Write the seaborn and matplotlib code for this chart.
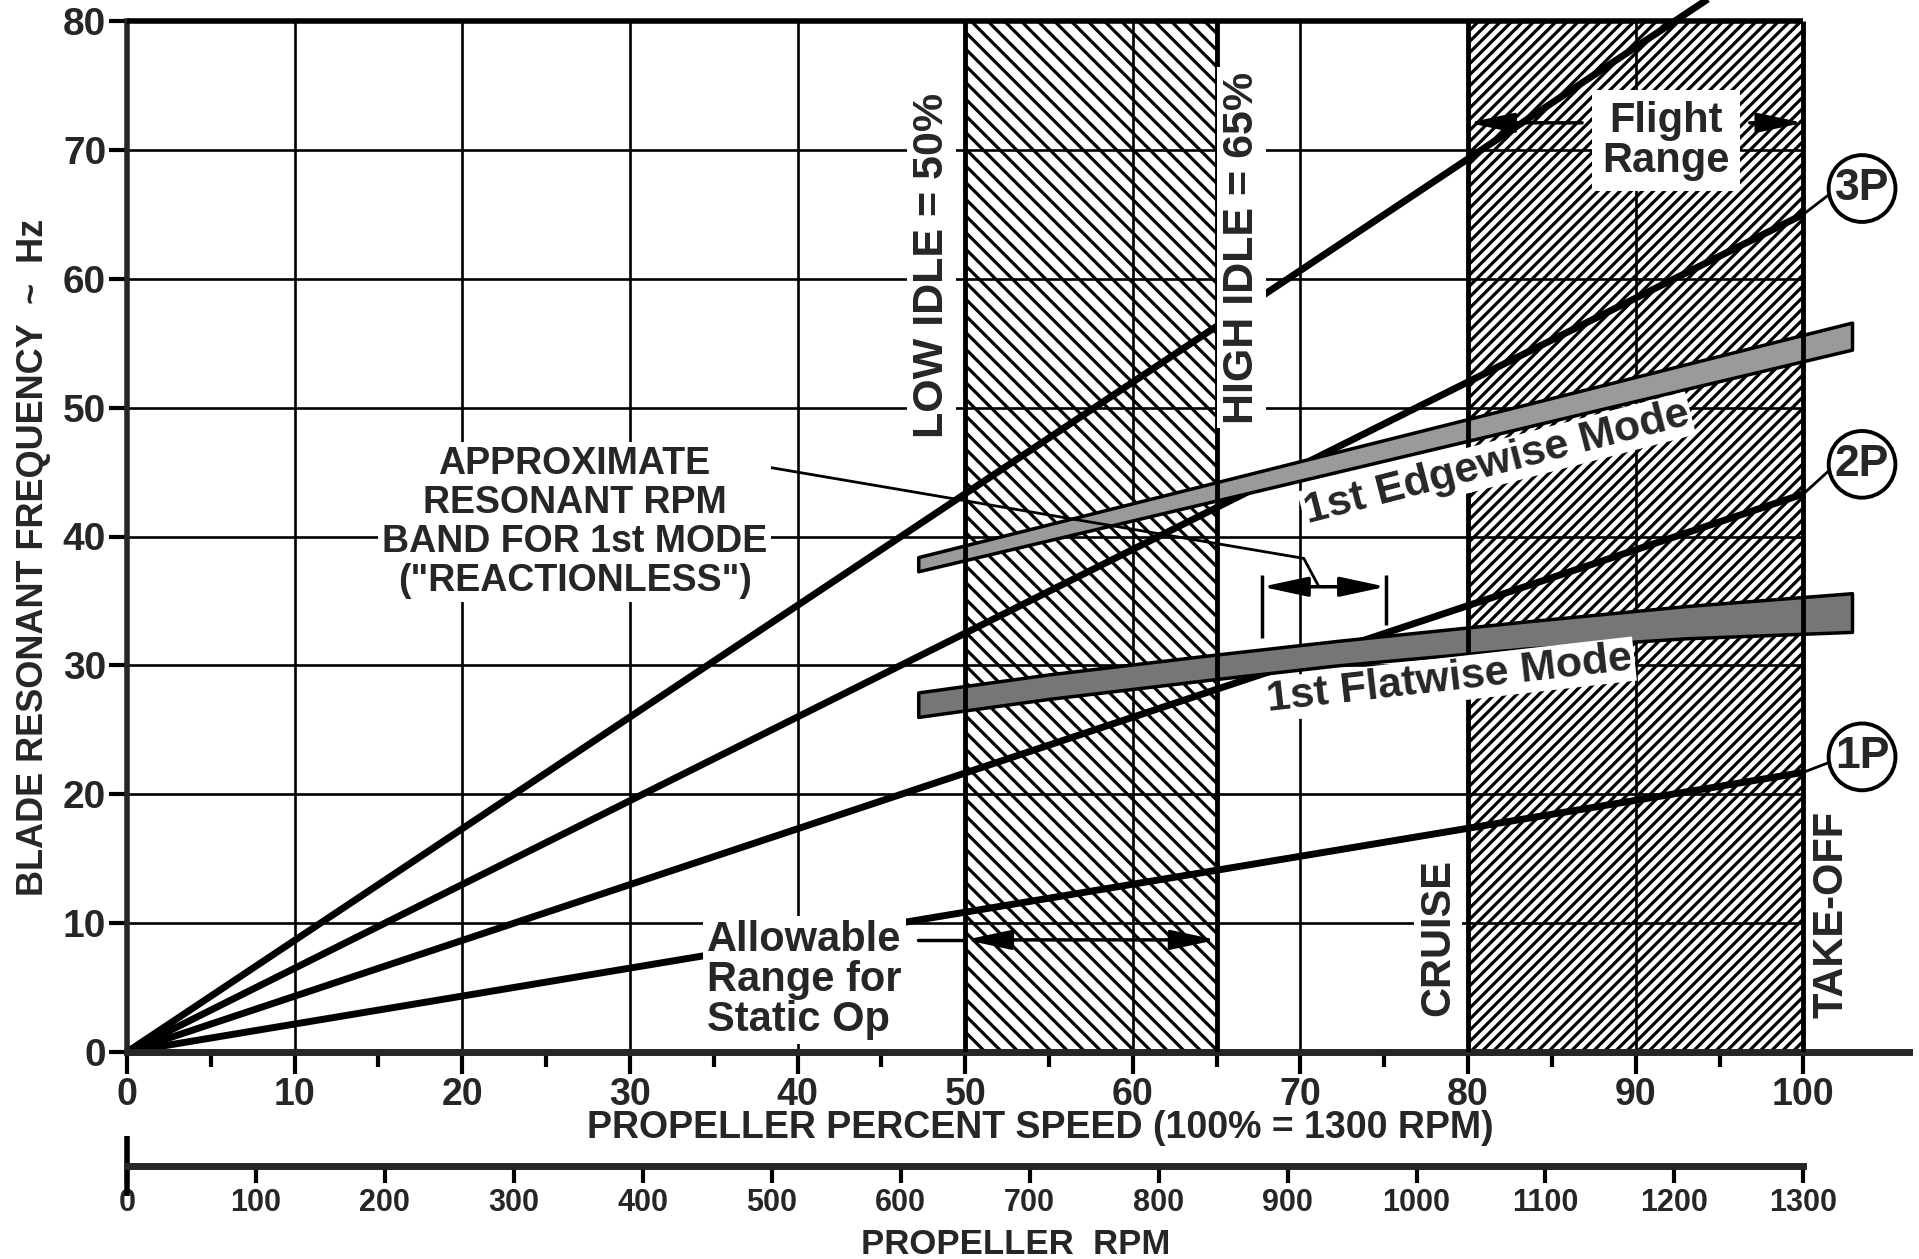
import matplotlib
matplotlib.use("Agg")
import matplotlib.pyplot as plt
import numpy as np
import pandas as pd
import seaborn as sns

# ---------------- data ----------------
speed_ticks = list(range(0, 101, 10))
speed_minor = list(range(5, 100, 10))
freq_ticks = list(range(0, 81, 10))
rpm_ticks = list(range(0, 1301, 100))

order_names = ["1P", "2P", "3P", "4P"]
order_x = [[0, 100], [0, 100], [0, 100], [0, 94.3]]
order_y = [[0, 21.7], [0, 43.3], [0, 65.0], [0, 81.7]]

edgewise_x = [47.2, 102.9]
edgewise_lo = [37.3, 54.5]
edgewise_hi = [38.4, 56.6]

flatwise_x = [47.2, 55.0, 64.7, 72.2, 83.4, 93.0, 102.9]
flatwise_lo = [26.0, 27.4, 28.9, 30.0, 31.3, 32.1, 32.6]
flatwise_hi = [27.9, 29.3, 30.8, 31.9, 33.4, 34.6, 35.6]

low_idle, high_idle, cruise, takeoff = 50, 65, 80, 100

circle_labels = ["1P", "2P", "3P"]
circle_y = [22.9, 45.6, 67.0]
line_end_y = [21.7, 43.3, 65.0]

# ---------------- style ----------------
sns.set_theme(style="white")
plt.rcParams["font.family"] = ["Liberation Sans", "DejaVu Sans"]
plt.rcParams["font.weight"] = "bold"
plt.rcParams["hatch.linewidth"] = 2.3
plt.rcParams["axes.linewidth"] = 4
plt.rcParams["xtick.bottom"] = True
plt.rcParams["ytick.left"] = True

W, H = 1919, 1259
fig = plt.figure(figsize=(W / 100, H / 100), dpi=100)
fig.patch.set_facecolor("white")

x0_px, x1_px = 127, 1909
y0_px, y1_px = 1052, 21
ax = fig.add_axes([x0_px / W, (H - y0_px) / H, (x1_px - x0_px) / W, (y0_px - y1_px) / H])
ax.set_facecolor("white")
ax.set_xlim(0, 106.3)
ax.set_ylim(0, 80)

for s in ["top", "right"]:
    ax.spines[s].set_visible(False)
ax.spines["left"].set_linewidth(4)
ax.spines["bottom"].set_linewidth(5)
ax.spines["left"].set_bounds(0, 80)

# hatched regions
ax.fill_betweenx([0, 80], low_idle, high_idle, facecolor="none", edgecolor="black",
                 hatch="\\\\", linewidth=0, zorder=1)
ax.fill_betweenx([0, 80], cruise, takeoff, facecolor="none", edgecolor="black",
                 hatch="///", linewidth=0, zorder=1)

# grid
ax.hlines(freq_ticks[1:-1], 0, 100, color="black", lw=1.9, zorder=1.5)
ax.vlines([t for t in speed_ticks[1:-1] if t not in (50, 80)], 0, 80, color="black", lw=1.9, zorder=1.5)
ax.hlines(80, 0, 100, color="black", lw=4, zorder=5, clip_on=False)

# order lines
rows = []
for name, xs, ys in zip(order_names, order_x, order_y):
    for xv, yv in zip(xs, ys):
        rows.append({"speed": xv, "freq": yv, "order": name})
df = pd.DataFrame(rows)
sns.lineplot(data=df, x="speed", y="freq", units="order", estimator=None, color="black",
             lw=5, ax=ax, legend=False, zorder=2)
for ln in ax.lines:
    ln.set_clip_on(False)
    ln.set_solid_capstyle("butt")

# mode bands
ax.fill_between(edgewise_x, edgewise_lo, edgewise_hi, facecolor="#9a9a9a", edgecolor="black",
                lw=2.5, zorder=3)
ax.fill_between(flatwise_x, flatwise_lo, flatwise_hi, facecolor="#767676", edgecolor="black",
                lw=2.5, zorder=3)

# boundary lines
ax.vlines([low_idle, high_idle, cruise, takeoff], 0, 80, color="black", lw=3.5, zorder=5)


def txt(x, y, s, size=30, rot=0, ha="center", z=6, pad=0.1, ls=1.0):
    ax.text(x, y, s, fontsize=size, rotation=rot, ha=ha, va="center", fontweight="bold",
            rotation_mode="anchor", linespacing=ls, multialignment="center" if ha == "center" else "left",
            bbox=dict(boxstyle=f"square,pad={pad}", fc="white", ec="none"), zorder=z)


txt(48.0, 61.0, "LOW IDLE = 50%", 31, 90)
txt(66.5, 62.4, "HIGH IDLE = 65%", 31, 90)
txt(78.2, 8.9, "CRUISE", 30, 90)
txt(101.7, 10.7, "TAKE-OFF", 30, 90)
txt(91.8, 70.7, "Flight\nRange", 30, 0, pad=0.25)
txt(26.7, 41.1, "APPROXIMATE\nRESONANT RPM\nBAND FOR 1st MODE\n(\"REACTIONLESS\")", 27, 0, ls=1.1)
txt(34.6, 5.6, "Allowable\nRange for\nStatic Op", 30, 0, ha="left", ls=1.0)
txt(81.7, 45.7, "1st Edgewise Mode", 31, 14.5, pad=0.05)
txt(78.9, 28.9, "1st Flatwise Mode", 31, 6.5, pad=0.05)

arrow = dict(arrowstyle="-|>,head_length=1.4,head_width=0.3", color="black", lw=2.5,
             mutation_scale=20, shrinkA=0, shrinkB=0)
# flight range arrows
ax.annotate("", xy=(cruise, 72.1), xytext=(86.8, 72.1), arrowprops=arrow, zorder=6)
ax.annotate("", xy=(takeoff, 72.1), xytext=(96.8, 72.1), arrowprops=arrow, zorder=6)
# allowable static range arrows
ax.plot([47.2, 50], [8.7, 8.7], color="black", lw=2.5, zorder=6)
ax.annotate("", xy=(low_idle, 8.7), xytext=(57.5, 8.7), arrowprops=arrow, zorder=6)
ax.annotate("", xy=(high_idle, 8.7), xytext=(57.5, 8.7), arrowprops=arrow, zorder=6)
# resonant band bracket
ax.plot([35.0, 70.2, 71.1], [46.1, 38.3, 36.1], color="black", lw=2, zorder=4)
ax.vlines(67.7, 32.1, 37.0, color="black", lw=2.5, zorder=4)
ax.vlines(75.1, 33.1, 37.0, color="black", lw=2.5, zorder=4)
ax.annotate("", xy=(67.7, 36.1), xytext=(71.4, 36.1), arrowprops=arrow, zorder=6)
ax.annotate("", xy=(75.1, 36.1), xytext=(71.4, 36.1), arrowprops=arrow, zorder=6)

# circled order labels
for lab, cy, ly in zip(circle_labels, circle_y, line_end_y):
    ax.plot([100, 101.6], [ly, cy - 0.4], color="black", lw=2, zorder=4)
    ax.text(103.5, cy, lab, fontsize=32, ha="center", va="center", fontweight="bold",
            bbox=dict(boxstyle="circle,pad=0.14", fc="white", ec="black", lw=2.8), zorder=7)

# ticks
ax.set_xticks(speed_ticks)
ax.set_xticks(speed_minor, minor=True)
ax.set_yticks(freq_ticks)
ax.tick_params(axis="x", which="major", direction="out", length=16, width=3, labelsize=27, pad=2,
               bottom=True, color="black")
ax.tick_params(axis="x", which="minor", direction="out", length=11, width=3, bottom=True, color="black")
ax.tick_params(axis="y", which="major", direction="out", length=13, width=3, labelsize=28, pad=2,
               left=True, color="black")
ax.set_xlabel("PROPELLER PERCENT SPEED (100% = 1300 RPM)", fontsize=27, fontweight="bold")
ax.xaxis.set_label_coords((1040 - x0_px) / (x1_px - x0_px), (y0_px - 1128) / (y0_px - y1_px))
ax.xaxis.label.set_va("center")
ax.set_ylabel("BLADE RESONANT FREQUENCY  ~  Hz", fontsize=26, fontweight="bold")
ax.yaxis.set_label_coords((34 - x0_px) / (x1_px - x0_px), (y0_px - 557) / (y0_px - y1_px))
ax.yaxis.label.set_va("center")

# RPM axis
rpm_y = 1166
x100_px = x0_px + (x1_px - x0_px) * 100 / 106.3
ax2 = fig.add_axes([x0_px / W, (H - rpm_y) / H, (x100_px - x0_px) / W, 30 / H])
ax2.set_xlim(0, 1300)
ax2.set_ylim(0, 1)
ax2.patch.set_alpha(0)
for s in ["top", "right", "left"]:
    ax2.spines[s].set_visible(False)
ax2.spines["bottom"].set_linewidth(5)
ax2.set_yticks([])
ax2.set_xticks(rpm_ticks)
ax2.xaxis.set_ticks_position("bottom")
ax2.tick_params(axis="x", which="major", direction="out", length=12, width=3, labelsize=22, pad=4,
                color="black", bottom=True, top=False)
ax2.vlines(0, -1.0, 1.0, color="black", lw=4, clip_on=False)
ax2.set_xlabel("PROPELLER  RPM", fontsize=25, fontweight="bold")
ax2.xaxis.set_label_coords((1016 - x0_px) / (x100_px - x0_px), (rpm_y - 1245) / 30)
ax2.xaxis.label.set_va("center")

fig.savefig("out.png", dpi=100, facecolor="white")
